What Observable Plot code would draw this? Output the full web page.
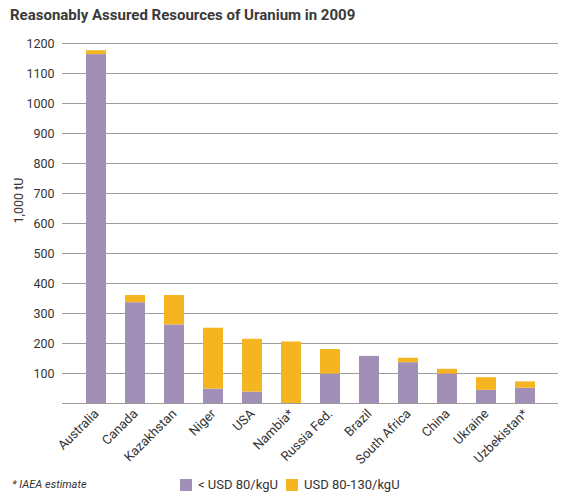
<!DOCTYPE html>
<html>
<head>
<meta charset="utf-8">
<script src="https://cdn.jsdelivr.net/npm/d3@7"></script>
<script src="https://cdn.jsdelivr.net/npm/@observablehq/plot@0.6"></script>
<style>
  body { margin: 0; background: #fff; font-family: Roboto, sans-serif; color: #333; }
  #wrap { width: 575px; height: 499px; position: relative; overflow: hidden; }
  #title { height: 30px; line-height: 30px; padding-left: 10px; font-size: 15px; font-weight: bold; color: #3a3a3a; white-space: nowrap; }
  #legend { position: relative; height: 29px; font-size: 13px; }
  #legend .note { position: absolute; left: 12px; top: 0; line-height: 29px; font-style: italic; font-size: 11px; }
  #legend .item { position: absolute; top: 0; line-height: 29px; display: flex; align-items: center; height: 29px; }
  #legend .sw { width: 12px; height: 12px; margin-right: 6px; display: inline-block; }
</style>
</head>
<body>
<div id="wrap">
  <div id="title">Reasonably Assured Resources of Uranium in 2009</div>
  <div id="chart"></div>
  <div id="legend"></div>
</div>
<script>
const countries = ["Australia", "Canada", "Kazakhstan", "Niger", "USA", "Nambia*", "Russia Fed.", "Brazil", "South Africa", "China", "Ukraine", "Uzbekistan*"];
const below80 = [1163, 336, 262, 48, 38, 0, 98, 157, 136, 98, 44, 51];
const from80to130 = [13, 24, 98, 203, 176, 205, 82, 0, 15, 16, 42, 21];
const seriesNames = ["< USD 80/kgU", "USD 80-130/kgU"];
const seriesColors = ["#A18FB7", "#F4B521"];
const yTicks = [100, 200, 300, 400, 500, 600, 700, 800, 900, 1000, 1100, 1200];
const gridValues = [0, ...yTicks];

const data = [];
countries.forEach((c, i) => {
  data.push({country: c, series: seriesNames[0], value: below80[i]});
  data.push({country: c, series: seriesNames[1], value: from80to130[i]});
});

const chart = Plot.plot({
  width: 575,
  height: 440,
  marginLeft: 62,
  marginRight: 17,
  marginTop: 13,
  marginBottom: 67,
  style: {fontFamily: "Roboto, sans-serif", fontSize: "12px", color: "#333", background: "white"},
  x: {domain: countries, padding: 0.5, label: null},
  y: {domain: [0, 1200], label: null},
  color: {domain: seriesNames, range: seriesColors},
  marks: [
    Plot.ruleY(gridValues, {stroke: "#9c9c9c", strokeWidth: 1}),
    Plot.barY(data, {x: "country", y: "value", fill: "series"}),
    Plot.axisY(yTicks, {tickSize: 0, tickPadding: 8, tickFormat: d => String(d), label: null, fontSize: 12.5}),
    Plot.axisX({tickSize: 0, tickPadding: 8, tickRotate: -45, label: null, fontSize: 13}),
    Plot.text(["1,000 tU"], {frameAnchor: "left", dx: -44, rotate: -90, fontSize: 12.5, fill: "#333"})
  ]
});
document.getElementById("chart").appendChild(chart);

const legend = document.getElementById("legend");
legend.innerHTML = `<span class="note">* IAEA estimate</span>` +
  `<span class="item" style="left:180px"><span class="sw" style="background:${seriesColors[0]}"></span>${seriesNames[0]}</span>` +
  `<span class="item" style="left:286px"><span class="sw" style="background:${seriesColors[1]}"></span>${seriesNames[1]}</span>`;
</script>
</body>
</html>
